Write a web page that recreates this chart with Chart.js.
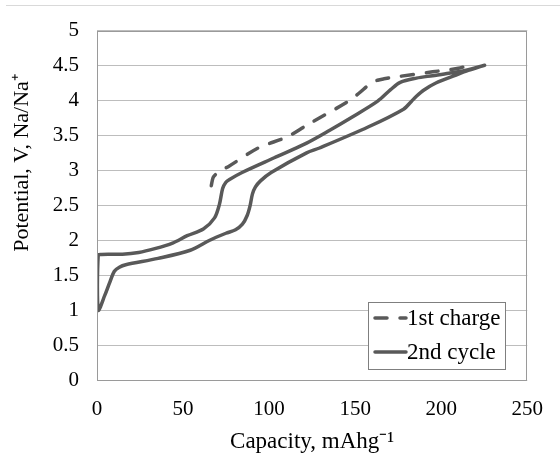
<!DOCTYPE html>
<html>
<head>
<meta charset="utf-8">
<script src="https://cdn.jsdelivr.net/npm/chart.js@4/dist/chart.umd.min.js"></script>
<style>
html,body{margin:0;padding:0;background:#fff;}
#wrap{width:560px;height:457px;position:relative;}
</style>
</head>
<body>
<div id="wrap"><canvas id="c" width="560" height="457"></canvas></div>
<script>
// ---- data ----
const seriesNames = ["1st charge", "2nd cycle"];

const capacity1st  = [66.4, 67.5, 69.3, 72.0, 76.7, 93.6, 110.5, 121.8, 146.2, 152.0, 159.3, 163.0, 166.8, 174.4, 195.0, 204.4, 210.0, 215.7];
const potential1st = [2.78, 2.90, 2.95, 3.00, 3.06, 3.32, 3.48, 3.645, 3.99, 4.10, 4.25, 4.29, 4.31, 4.34, 4.41, 4.44, 4.46, 4.50];

const capacity2nd  = [225.2, 213.8, 204.4, 195.0, 185.6, 176.2, 170.6, 163.1, 148.1, 135.0, 121.8, 103.0, 84.3, 77.0, 74.9, 73.0, 71.1, 68.3, 61.8, 52.4, 43.9, 33.6, 24.2, 14.8, 2.6, 0.7, 0.7,
                      4.5, 7.3, 10.1, 13.0, 16.7, 35.5, 54.2, 65.5, 74.9, 80.5, 84.5, 87.2, 89.0, 90.3, 92.0, 95.0, 101.2, 121.8, 129.3, 157.5, 178.1, 182.8, 185.6, 190.0, 196.9, 208.2, 215.7, 225.2];
const potential2nd = [4.505, 4.43, 4.39, 4.355, 4.32, 4.26, 4.155, 3.99, 3.76, 3.57, 3.39, 3.18, 2.97, 2.87, 2.83, 2.74, 2.51, 2.32, 2.16, 2.065, 1.96, 1.88, 1.825, 1.80, 1.797, 1.787, 1.0,
                      1.21, 1.39, 1.556, 1.615, 1.65, 1.74, 1.857, 2.0, 2.10, 2.15, 2.23, 2.35, 2.50, 2.66, 2.76, 2.85, 2.97, 3.25, 3.32, 3.62, 3.876, 3.99, 4.06, 4.15, 4.25, 4.36, 4.43, 4.505];

const xTickValues = [0, 50, 100, 150, 200, 250];
const yTickValues = [0, 0.5, 1, 1.5, 2, 2.5, 3, 3.5, 4, 4.5, 5];
const xTitle = "Capacity, mAhg\u207B\u00B9";
const yTitle = "Potential, V, Na/Na\u207A";

// ---- build ----
function pts(xs, ys){ return xs.map((x,i)=>({x:x, y:ys[i]})); }

const FONT = "'Liberation Serif', 'Times New Roman', serif";
const LINE = "#595959";

const frame = {
  id: 'frame',
  beforeDraw(chart){
    const ctx = chart.ctx;
    ctx.save();
    ctx.strokeStyle = '#d9d9d9';
    ctx.lineWidth = 1;
    ctx.beginPath(); ctx.moveTo(6, 5.5); ctx.lineTo(560, 5.5); ctx.stroke();
    ctx.restore();
  },
  afterDraw(chart){
    const ctx = chart.ctx, a = chart.chartArea;
    ctx.save();
    ctx.fillStyle = '#000';
    ctx.textAlign = 'center';
    ctx.textBaseline = 'middle';
    // x axis title
    ctx.font = "23px " + FONT;
    ctx.fillText(xTitle, (a.left + a.right) / 2, 442);
    // y axis title
    ctx.font = "22px " + FONT;
    ctx.save();
    ctx.translate(22, 163);
    ctx.rotate(-Math.PI / 2);
    ctx.fillText(yTitle, 0, 0);
    ctx.restore();
    ctx.restore();
  },
  afterDatasetsDraw(chart){
    const ctx = chart.ctx, a = chart.chartArea;
    ctx.save();
    ctx.strokeStyle = '#9a9a9a';
    ctx.lineWidth = 1;
    ctx.strokeRect(Math.round(a.left)+0.5, Math.round(a.top)+0.5, Math.round(a.right-a.left)-1, Math.round(a.bottom-a.top));
    // legend box
    const bx = 368, by = 302, bw = 137, bh = 67;
    ctx.fillStyle = '#fff';
    ctx.fillRect(bx, by, bw, bh);
    ctx.strokeStyle = '#7f7f7f';
    ctx.strokeRect(bx+0.5, by+0.5, bw, bh);
    ctx.font = "23px " + FONT;
    ctx.textBaseline = 'middle';
    ctx.fillStyle = '#000';
    chart.data.datasets.forEach((ds, i) => {
      const y = by + 16 + i*34;
      ctx.save();
      ctx.strokeStyle = ds.borderColor;
      ctx.lineWidth = ds.borderWidth;
      ctx.lineCap = 'round';
      ctx.setLineDash(ds.borderDash || []);
      ctx.beginPath(); ctx.moveTo(375, y); ctx.lineTo(406, y); ctx.stroke();
      ctx.restore();
      ctx.fillText(ds.label, 407, y+1);
    });
    ctx.restore();
  }
};

new Chart(document.getElementById('c'), {
  type: 'scatter',
  data: {
    datasets: [
      { label: seriesNames[0], data: pts(capacity1st, potential1st), showLine: true,
        borderColor: LINE, backgroundColor: LINE, borderWidth: 3.5, borderDash: [12, 13],
        borderCapStyle: 'round', pointRadius: 0, tension: 0.3 },
      { label: seriesNames[1], data: pts(capacity2nd, potential2nd), showLine: true,
        borderColor: LINE, backgroundColor: LINE, borderWidth: 3.5,
        borderCapStyle: 'round', borderJoinStyle: 'round', pointRadius: 0, tension: 0.3 }
    ]
  },
  options: {
    responsive: false,
    animation: false,
    layout: { padding: { top: 21, right: 19, left: 0, bottom: 0 } },
    plugins: { legend: { display: false }, tooltip: { enabled: false } },
    scales: {
      x: {
        type: 'linear', min: 0, max: 250,
        afterFit(s){ s.height = 77; },
        afterBuildTicks(s){ s.ticks = xTickValues.map(v=>({value:v})); },
        grid: { display: false, drawTicks: false },
        border: { display: false },
        ticks: { color: '#000', font: { family: FONT, size: 21 }, padding: 17, maxRotation: 0,
                 callback: v => String(v) },
        title: { display: false }
      },
      y: {
        type: 'linear', min: 0, max: 5,
        afterFit(s){ s.width = 97; },
        afterBuildTicks(s){ s.ticks = yTickValues.map(v=>({value:v})); },
        grid: { color: '#bdbdbd', lineWidth: 1, drawTicks: false },
        border: { display: false },
        ticks: { color: '#000', font: { family: FONT, size: 21 }, padding: 18,
                 callback: v => String(v) },
        title: { display: false }
      }
    }
  },
  plugins: [frame]
});
</script>
</body>
</html>
